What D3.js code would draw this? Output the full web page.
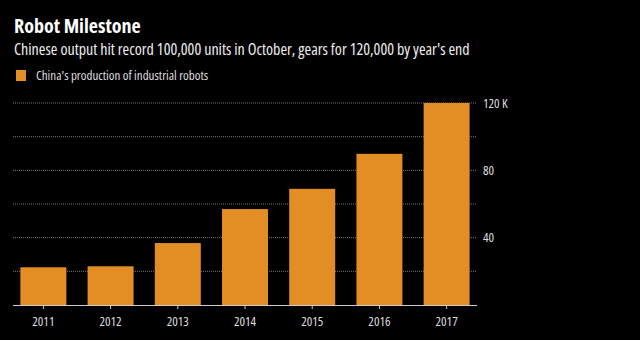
<!DOCTYPE html>
<html><head><meta charset="utf-8">
<script src="https://cdn.jsdelivr.net/npm/d3@7"></script>
<style>html,body{margin:0;padding:0;background:#000;}svg{display:block;}</style>
</head><body>
<svg id="chart" width="640" height="340"></svg>
<script>
const years = ["2011","2012","2013","2014","2015","2016","2017"];
const production = [22.4, 23.0, 36.8, 57.0, 69.0, 89.8, 120.0];
const gridValues = [20, 40, 60, 80, 100, 120];
const tickValues = [40, 80, 120];
const tickLabels = ["40", "80", "120 K"];

const svg = d3.select("#chart");
const W = 640, H = 340;
svg.append("rect").attr("width", W).attr("height", H).attr("fill", "#000");

const font = "'Open Sans', sans-serif";
const x = d3.scaleBand().domain(years).range([13, 477]).paddingInner(0.316).paddingOuter(0.11);
const y = d3.scaleLinear().domain([0, 120]).range([305, 103]);

svg.append("text").attr("x", 14).attr("y", 33).text("Robot Milestone")
  .attr("fill", "#fff").attr("font-family", font).style("font-stretch", "80%").attr("font-weight", "bold").attr("font-size", 20);
svg.append("text").attr("x", 14).attr("y", 55)
  .text("Chinese output hit record 100,000 units in October, gears for 120,000 by year's end")
  .attr("fill", "#eee").attr("font-family", font).style("font-stretch", "condensed").attr("font-size", 16);
svg.append("rect").attr("x", 16).attr("y", 70).attr("width", 10).attr("height", 11).attr("fill", "#e38d25");
svg.append("text").attr("x", 36).attr("y", 80).text("China's production of industrial robots")
  .attr("fill", "#ddd").attr("font-family", font).style("font-stretch", "condensed").attr("font-size", 13);

// gridlines
svg.append("g").selectAll("line").data(gridValues).join("line")
  .attr("x1", 13).attr("x2", 477).attr("y1", d => y(d)).attr("y2", d => y(d))
  .attr("stroke", "#777").attr("stroke-width", 1).attr("stroke-dasharray", "1,1");

// bars
svg.append("g").selectAll("rect").data(production).join("rect")
  .attr("x", (d, i) => x(years[i])).attr("width", x.bandwidth())
  .attr("y", d => y(d)).attr("height", d => y(0) - y(d))
  .attr("fill", "#e38d25");

// x axis
const xAxis = d3.axisBottom(x).tickSize(4).tickSizeOuter(0).tickPadding(8);
const gx = svg.append("g").attr("transform", "translate(0,305)").call(xAxis);
gx.select(".domain").attr("stroke", "#ccc").attr("d", "M13,0.5H477");
gx.selectAll(".tick line").attr("stroke", "#ccc");
gx.selectAll(".tick text").attr("fill", "#ddd").attr("font-family", font).style("font-stretch", "condensed").attr("font-size", 13);

// y axis right
const yAxis = d3.axisRight(y).tickValues(tickValues).tickFormat((d, i) => tickLabels[i]).tickSize(0).tickPadding(6);
const gy = svg.append("g").attr("transform", "translate(477,0)").call(yAxis);
gy.select(".domain").remove();
gy.selectAll(".tick text").attr("fill", "#ddd").attr("font-family", font).style("font-stretch", "condensed").attr("font-size", 13);
</script>
</body></html>
